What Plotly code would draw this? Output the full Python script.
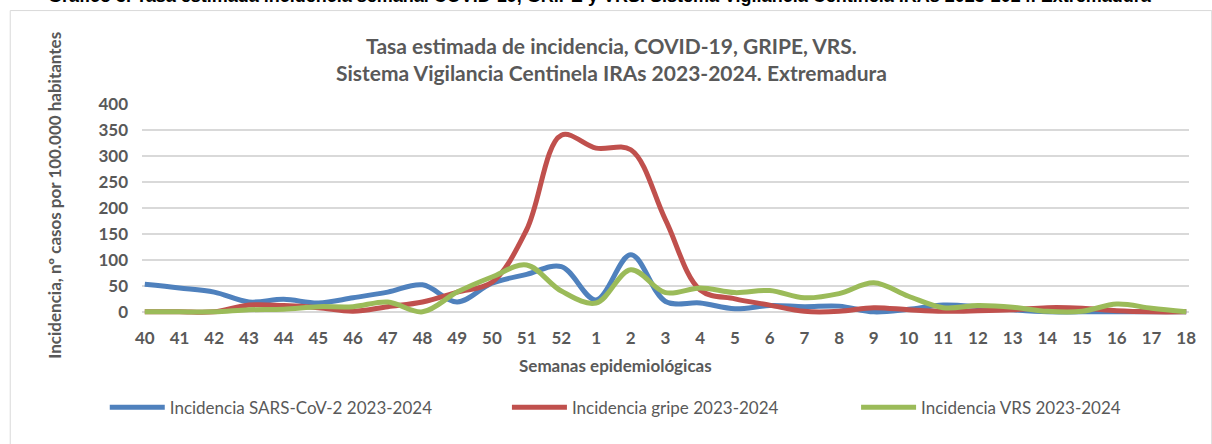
import plotly.graph_objects as go

weeks = ["40", "41", "42", "43", "44", "45", "46", "47", "48", "49", "50", "51", "52",
         "1", "2", "3", "4", "5", "6", "7", "8", "9", "10", "11", "12", "13", "14",
         "15", "16", "17", "18"]

sars_cov2 = [53, 46, 38, 19, 24, 17, 27, 38, 52, 19, 55, 72, 87,
             23, 110, 20, 17, 6, 12, 10, 11, 0, 5, 13, 10, 4, 0, 0, 0, 0, 0]
gripe = [0, 0, 0, 13, 12, 8, 1, 10, 19, 38, 57, 158, 340,
         315, 312, 177, 42, 25, 13, 1, 1, 8, 4, 1, 2, 4, 8, 7, 2, 0, 0]
vrs = [0, 0, 0, 4, 5, 10, 10, 19, 0, 38, 67, 90, 40,
       17, 81, 37, 46, 37, 41, 27, 35, 56, 30, 8, 12, 9, 1, 1, 15, 7, 0]

series_names = ["Incidencia SARS-CoV-2 2023-2024", "Incidencia gripe 2023-2024", "Incidencia VRS 2023-2024"]
series_values = [sars_cov2, gripe, vrs]
colors = ["#4F81BD", "#C0504D", "#9BBB59"]

W, H = 1212, 444
# plot area geometry (pixels)
x_lo, x_hi = -0.08, 30.08
y_lo, y_hi = -8, 400
px_per_x = 1041 / 30
px_per_y = 208 / 400
left = 145 - (0 - x_lo) * px_per_x
right_px = 1186 + (x_hi - 30) * px_per_x
top = 312 - (y_hi - 0) * px_per_y
bottom_px = 312 + (0 - y_lo) * px_per_y
pw = right_px - left
ph = bottom_px - top


def px(xp):
    return (xp - left) / pw


def py(yp):
    return (bottom_px - yp) / ph


fig = go.Figure()
legend_keys = ["legend", "legend2", "legend3"]
for name, vals, col, lk in zip(series_names, series_values, colors, legend_keys):
    fig.add_trace(go.Scatter(
        x=list(range(len(weeks))), y=vals, mode="lines", name=name,
        line=dict(color=col, width=5, shape="spline", smoothing=1.0),
        legend=lk, showlegend=True,
    ))

GRAY = "#595959"
FONT = "Lato"

legend_text_starts = [167, 569, 918]
leg_common = dict(orientation="h", yanchor="middle", xanchor="left",
                  font=dict(family=FONT, size=17, color=GRAY),
                  bgcolor="rgba(0,0,0,0)", itemwidth=55)
legends = {}
for lk, ts in zip(legend_keys, legend_text_starts):
    legends[lk] = dict(x=px(ts - 62), y=py(408), **leg_common)

fig.update_layout(
    width=W, height=H,
    margin=dict(l=left, r=W - right_px, t=top, b=H - bottom_px, pad=0),
    paper_bgcolor="white", plot_bgcolor="white",
    font=dict(family=FONT, color=GRAY),
    xaxis=dict(
        range=[x_lo, x_hi], tickmode="array", tickvals=list(range(len(weeks))),
        ticktext=weeks, showgrid=False, zeroline=False, showline=False,
        ticks="", tickfont=dict(family=FONT, size=17, color=GRAY, weight="bold"),
        ticklabelstandoff=10,
    ),
    yaxis=dict(
        range=[y_lo, y_hi], tickvals=[0, 50, 100, 150, 200, 250, 300, 350, 400],
        showgrid=True, gridcolor="#D9D9D9", gridwidth=1.5, zeroline=False,
        showline=False, ticks="",
        tickfont=dict(family=FONT, size=17, color=GRAY, weight="bold"),
        ticklabelstandoff=13,
    ),
    **legends,
)

annotations = [
    dict(text="Tasa estimada de incidencia, COVID-19, GRIPE, VRS.<br>Sistema Vigilancia Centinela IRAs 2023-2024. Extremadura",
         x=px(612), y=py(59), xref="paper", yref="paper", xanchor="center", yanchor="middle",
         showarrow=False, font=dict(family=FONT, size=21, color=GRAY, weight="bold")),
    dict(text="Semanas epidemiológicas", x=px(616), y=py(366), xref="paper", yref="paper",
         xanchor="center", yanchor="middle", showarrow=False,
         font=dict(family=FONT, size=17, color=GRAY, weight="bold")),
    dict(text="Incidencia, nº casos por 100.000 habitantes", x=px(55), y=py(195), xref="paper",
         yref="paper", xanchor="center", yanchor="middle", textangle=-90, showarrow=False,
         font=dict(family=FONT, size=17, color=GRAY, weight="bold")),
    dict(text="Gráfico 3. Tasa estimada incidencia semanal COVID-19, GRIPE y VRS. Sistema Vigilancia Centinela IRAs 2023-2024. Extremadura",
         x=px(600), y=py(-4), xref="paper", yref="paper", xanchor="center", yanchor="middle",
         showarrow=False, font=dict(family="Liberation Sans", size=18, color="black", weight="bold")),
]
fig.update_layout(annotations=annotations)

fig.add_shape(type="rect", xref="paper", yref="paper",
              x0=px(10.5), x1=px(1211.5), y0=py(450), y1=py(10.5),
              line=dict(color="#D9D9D9", width=1), fillcolor="rgba(0,0,0,0)", layer="below")

fig.write_html("out.html", config={"displayModeBar": False},
               post_script="document.body.style.margin='0px';document.body.style.overflow='hidden';")
